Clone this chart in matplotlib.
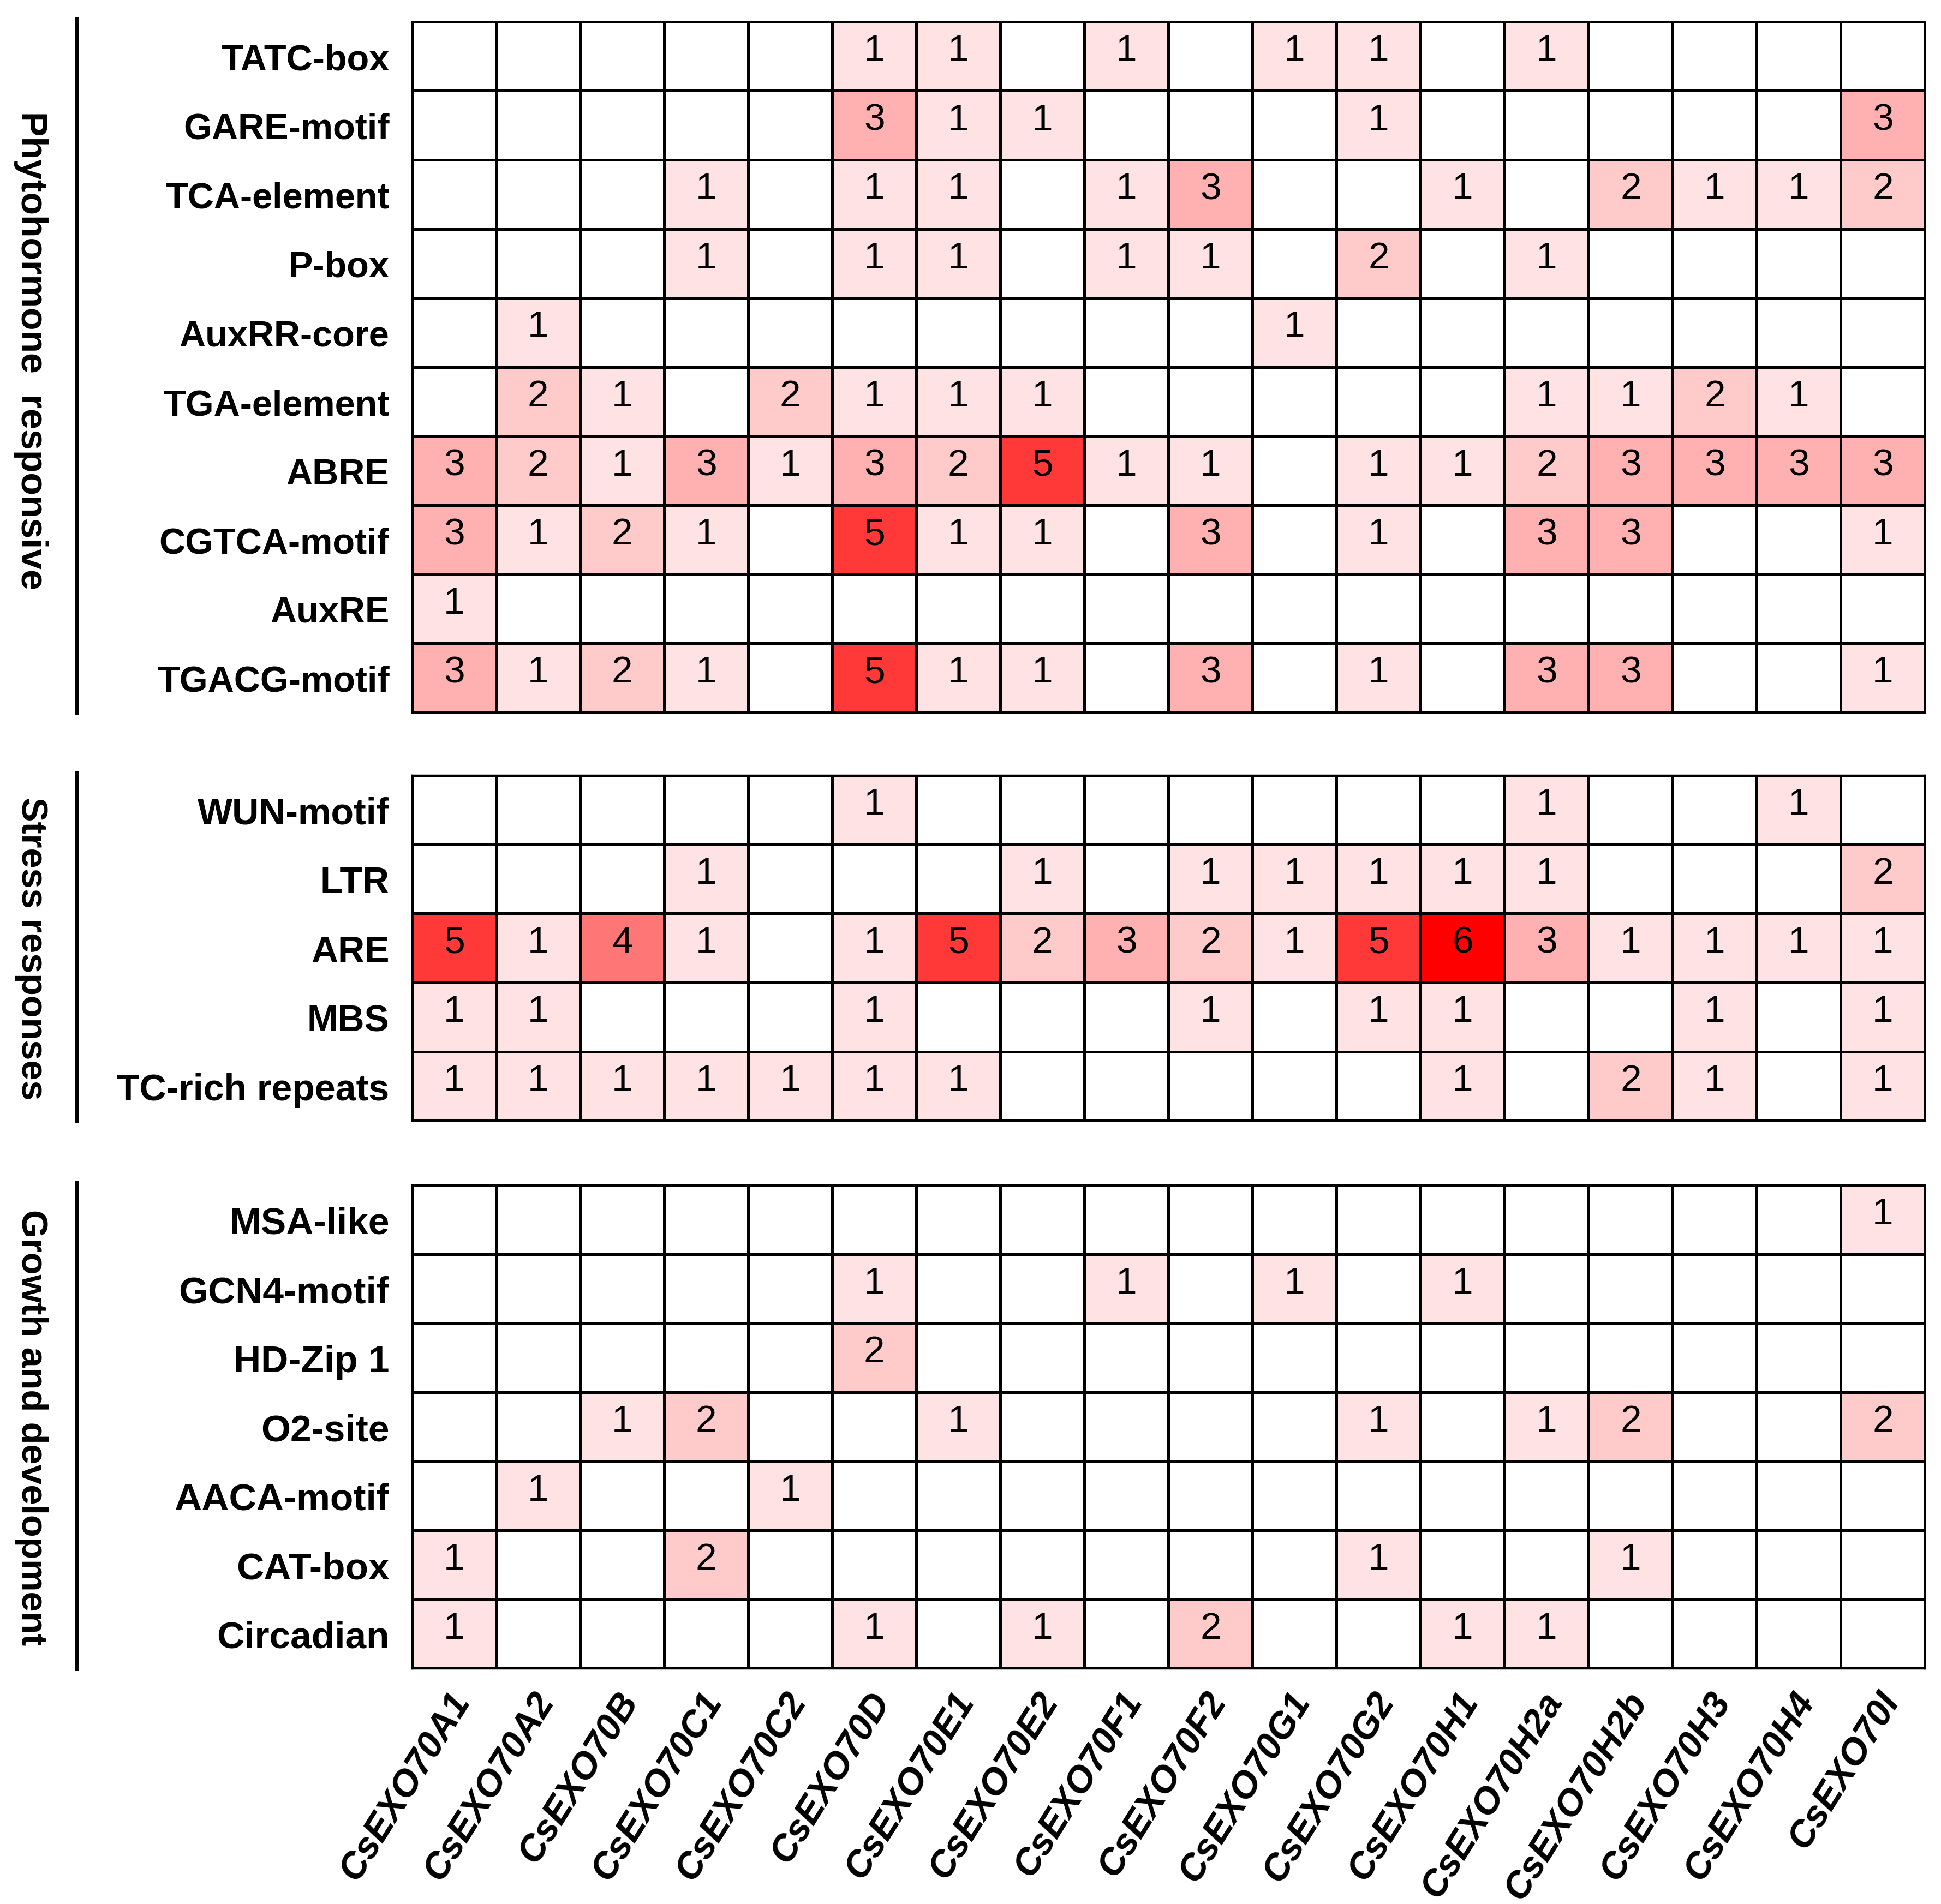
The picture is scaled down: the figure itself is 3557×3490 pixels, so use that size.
import numpy as np
import matplotlib
matplotlib.use("Agg")
import matplotlib.pyplot as plt
from matplotlib.colors import ListedColormap, BoundaryNorm
from matplotlib.lines import Line2D

# genes (columns)
genes = ["CsEXO70A1", "CsEXO70A2", "CsEXO70B", "CsEXO70C1", "CsEXO70C2",
         "CsEXO70D", "CsEXO70E1", "CsEXO70E2", "CsEXO70F1", "CsEXO70F2",
         "CsEXO70G1", "CsEXO70G2", "CsEXO70H1", "CsEXO70H2a", "CsEXO70H2b",
         "CsEXO70H3", "CsEXO70H4", "CsEXO70I"]

# phytohormone responsive elements
phyto_labels = ["TATC-box", "GARE-motif", "TCA-element", "P-box", "AuxRR-core",
                "TGA-element", "ABRE", "CGTCA-motif", "AuxRE", "TGACG-motif"]
phyto_counts = [
    [0, 0, 0, 0, 0, 1, 1, 0, 1, 0, 1, 1, 0, 1, 0, 0, 0, 0],
    [0, 0, 0, 0, 0, 3, 1, 1, 0, 0, 0, 1, 0, 0, 0, 0, 0, 3],
    [0, 0, 0, 1, 0, 1, 1, 0, 1, 3, 0, 0, 1, 0, 2, 1, 1, 2],
    [0, 0, 0, 1, 0, 1, 1, 0, 1, 1, 0, 2, 0, 1, 0, 0, 0, 0],
    [0, 1, 0, 0, 0, 0, 0, 0, 0, 0, 1, 0, 0, 0, 0, 0, 0, 0],
    [0, 2, 1, 0, 2, 1, 1, 1, 0, 0, 0, 0, 0, 1, 1, 2, 1, 0],
    [3, 2, 1, 3, 1, 3, 2, 5, 1, 1, 0, 1, 1, 2, 3, 3, 3, 3],
    [3, 1, 2, 1, 0, 5, 1, 1, 0, 3, 0, 1, 0, 3, 3, 0, 0, 1],
    [1, 0, 0, 0, 0, 0, 0, 0, 0, 0, 0, 0, 0, 0, 0, 0, 0, 0],
    [3, 1, 2, 1, 0, 5, 1, 1, 0, 3, 0, 1, 0, 3, 3, 0, 0, 1],
]

# stress responses
stress_labels = ["WUN-motif", "LTR", "ARE", "MBS", "TC-rich repeats"]
stress_counts = [
    [0, 0, 0, 0, 0, 1, 0, 0, 0, 0, 0, 0, 0, 1, 0, 0, 1, 0],
    [0, 0, 0, 1, 0, 0, 0, 1, 0, 1, 1, 1, 1, 1, 0, 0, 0, 2],
    [5, 1, 4, 1, 0, 1, 5, 2, 3, 2, 1, 5, 6, 3, 1, 1, 1, 1],
    [1, 1, 0, 0, 0, 1, 0, 0, 0, 1, 0, 1, 1, 0, 0, 1, 0, 1],
    [1, 1, 1, 1, 1, 1, 1, 0, 0, 0, 0, 0, 1, 0, 2, 1, 0, 1],
]

# growth and development
growth_labels = ["MSA-like", "GCN4-motif", "HD-Zip 1", "O2-site", "AACA-motif",
                 "CAT-box", "Circadian"]
growth_counts = [
    [0, 0, 0, 0, 0, 0, 0, 0, 0, 0, 0, 0, 0, 0, 0, 0, 0, 1],
    [0, 0, 0, 0, 0, 1, 0, 0, 1, 0, 1, 0, 1, 0, 0, 0, 0, 0],
    [0, 0, 0, 0, 0, 2, 0, 0, 0, 0, 0, 0, 0, 0, 0, 0, 0, 0],
    [0, 0, 1, 2, 0, 0, 1, 0, 0, 0, 0, 1, 0, 1, 2, 0, 0, 2],
    [0, 1, 0, 0, 1, 0, 0, 0, 0, 0, 0, 0, 0, 0, 0, 0, 0, 0],
    [1, 0, 0, 2, 0, 0, 0, 0, 0, 0, 0, 1, 0, 0, 1, 0, 0, 0],
    [1, 0, 0, 0, 0, 1, 0, 1, 0, 2, 0, 0, 1, 1, 0, 0, 0, 0],
]

group_names = ["Phytohormone  responsive", "Stress responses", "Growth and development"]

cell_colors = ["#FFFFFF", "#FFE2E4", "#FFCACA", "#FFB0B0", "#FF7676", "#FF3838", "#FF0000"]
cmap = ListedColormap(cell_colors)
norm = BoundaryNorm(np.arange(-0.5, 7.5, 1), cmap.N)

NARROW = ["Liberation Sans Narrow", "Liberation Sans", "DejaVu Sans"]
WIDE = ["Liberation Sans", "Arial", "DejaVu Sans"]

fig = plt.figure(figsize=(35.57, 34.91), dpi=100)

X0, X1 = 0.2123, 0.9917
ROW_H = 0.03626
# top edge, row labels, counts, label font, label size, group label y
panels = [
    (0.9883, phyto_labels, phyto_counts, NARROW, 48, 0.816),
    (0.5926, stress_labels, stress_counts, WIDE, 49, None),
    (0.3775, growth_labels, growth_counts, WIDE, 50, None),
]

for k, (top, labels, counts, fam, lsize, gy) in enumerate(panels):
    data = np.array(counts)
    nrow = data.shape[0]
    h = nrow * ROW_H
    ax = fig.add_axes([X0, top - h, X1 - X0, h])
    ax.pcolormesh(data, cmap=cmap, norm=norm, edgecolors="black", linewidth=2.2)
    ax.set_xlim(0, len(genes))
    ax.set_ylim(nrow, 0)
    for i in range(nrow):
        for j in range(len(genes)):
            if data[i, j] > 0:
                ax.text(j + 0.5, i + 0.42, str(data[i, j]), ha="center", va="center",
                        fontsize=50, family=NARROW, color="black")
    ax.set_xticks([])
    ax.set_yticks(np.arange(nrow) + 0.5)
    ax.set_yticklabels(labels, fontsize=lsize, fontweight="bold", family=fam)
    ax.tick_params(axis="y", length=0, pad=30)
    for sp in ax.spines.values():
        sp.set_linewidth(2.5)

    # group bracket line and label
    fig.add_artist(Line2D([0.0395, 0.0395], [top + 0.0015, top - h],
                          color="black", linewidth=5, transform=fig.transFigure))
    if gy is None:
        gy = top - h / 2
    fig.text(0.016, gy, group_names[k], rotation=270, ha="center", va="center",
             fontsize=49 if k == 0 else 48, fontweight="bold",
             family=NARROW if k == 0 else WIDE)

    if k == len(panels) - 1:
        for j, g in enumerate(genes):
            ax.text(j + 0.6, nrow + 0.38, g, rotation=58, rotation_mode="anchor",
                    ha="right", va="center", fontsize=49, fontweight="bold",
                    fontstyle="italic", family=WIDE)

fig.savefig("out.png", dpi=100, facecolor="white")
